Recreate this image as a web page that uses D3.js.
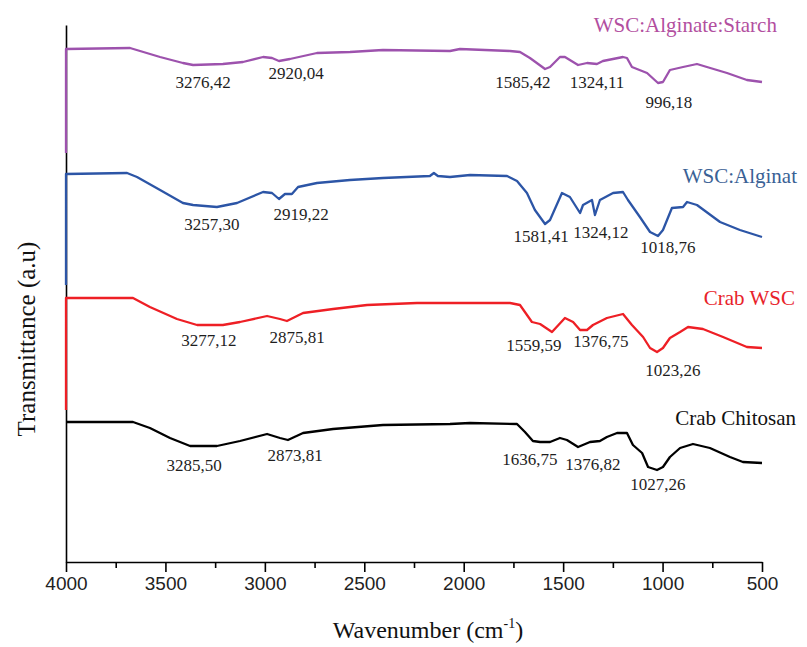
<!DOCTYPE html>
<html><head><meta charset="utf-8">
<script src="https://cdn.jsdelivr.net/npm/d3@7"></script>
<style>body{margin:0;background:#fff}svg{display:block}</style>
</head><body><div id="chart"></div>
<script>
// wavenumber (cm-1), transmittance (a.u.)
const starchW = [4000,4000,3678,3527,3412,3361,3211,3110,3009,2964,2929,2874,2738,2572,2406,2069,2019,1767,1717,1667,1591,1566,1516,1491,1425,1380,1330,1300,1199,1179,1154,1078,1023,998,963,897,827,777,676,576,500];
const starchT = [409,513,514,505,499,497,498,500,505,504,501,503,509,510,512,511,513,511,510,504,493,495,505,505,497,499,498,501,505,504,495,489,479,480,492,495,498,495,489,482,480];

const alginatW = [4000,4000,3693,3643,3527,3412,3361,3241,3140,3009,2964,2929,2899,2864,2833,2738,2572,2406,2170,2150,2130,2069,1968,1782,1732,1682,1642,1591,1566,1506,1466,1415,1400,1355,1340,1315,1249,1199,1174,1114,1063,1023,998,953,897,877,827,711,611,500];
const alginatT = [277,388,389,385,372,359,357,355,359,370,369,363,368,368,375,379,382,384,386,389,386,385,387,386,381,369,352,338,342,369,365,349,357,362,347,362,369,370,362,345,330,326,332,354,355,360,357,340,332,325];

const wscW = [4000,4000,3663,3578,3442,3341,3211,3125,2989,2924,2889,2808,2657,2486,2235,2069,1767,1717,1657,1616,1556,1491,1450,1415,1380,1350,1280,1199,1154,1098,1063,1028,998,963,912,872,797,696,576,500];
const wscT = [152,264,264,255,243,237,237,240,246,243,241,249,253,257,259,259,259,257,240,238,230,244,240,232,232,237,244,248,237,225,214,210,214,224,230,235,233,225,215,214];

const chitW = [4000,3663,3578,3477,3376,3241,3125,2989,2924,2884,2808,2657,2406,2069,1968,1732,1692,1652,1616,1566,1516,1481,1425,1365,1315,1280,1229,1179,1149,1103,1073,1028,998,963,912,847,762,661,596,500];
const chitT = [140,140,134,124,116,116,121,128,124,122,129,133,137,138,139,138,130,121,120,120,124,122,115,120,121,125,129,129,117,109,95,92,95,105,114,118,114,105,100,99];

const seriesNames = ["WSC:Alginate:Starch","WSC:Alginat","Crab WSC","Crab Chitosan"];
const nameW = [425,324,334,329];
const nameT = [530,379,257,137];

const starchPeaks = ["3276,42","2920,04","1585,42","1324,11","996,18"];
const starchPeakW = [3311,2843,1702,1330,968];
const starchPeakT = [474,483,474,474,454];
const alginatPeaks = ["3257,30","2919,22","1581,41","1324,12","1018,76"];
const alginatPeakW = [3266,2818,1611,1310,973];
const alginatPeakT = [332,342,320,324,309];
const wscPeaks = ["3277,12","2875,81","1559,59","1376,75","1023,26"];
const wscPeakW = [3281,2838,1647,1310,948];
const wscPeakT = [216,219,211,215,186];
const chitPeaks = ["3285,50","2873,81","1636,75","1376,82","1027,26"];
const chitPeakW = [3356,2848,1667,1350,1023];
const chitPeakT = [91,101,97,92,72];

const xTicks = [4000,3500,3000,2500,2000,1500,1000,500];
const xMinorTicks = [3750,3250,2750,2250,1750,1250,750];

const lineColors = ["#9d52ad","#2c55a6","#ee1f25","#000000"];
const nameColors = ["#b24f9f","#3a6195","#e8232a","#111111"];

const W = 807, H = 647;
const margin = {left:66, right:45, top:25, bottom:85};
const x = d3.scaleLinear().domain([4000,500]).range([margin.left, W - margin.right]);
const y = d3.scaleLinear().domain([0,537]).range([H - margin.bottom, margin.top]);

const svg = d3.select("#chart").append("svg").attr("width",W).attr("height",H);

// axes
const xAxis = svg.append("g").attr("transform",`translate(0,${y(0)})`)
  .call(d3.axisBottom(x).tickValues(xTicks).tickFormat(d3.format("d")).tickSize(10).tickSizeOuter(0).tickPadding(5));
xAxis.select(".domain").attr("stroke","#000").attr("stroke-width",1.6);
xAxis.selectAll(".tick line").attr("stroke","#000").attr("stroke-width",1.6);
xAxis.selectAll("text").attr("font-family","Liberation Sans, Arial, sans-serif").attr("font-size",19).attr("fill","#222");
const xMinor = svg.append("g").attr("transform",`translate(0,${y(0)})`)
  .call(d3.axisBottom(x).tickValues(xMinorTicks).tickFormat("").tickSize(6).tickSizeOuter(0));
xMinor.select(".domain").remove();
xMinor.selectAll(".tick line").attr("stroke","#000").attr("stroke-width",1.6);

const yAxis = svg.append("g").attr("transform",`translate(${x(4000)},0)`)
  .call(d3.axisLeft(y).tickValues([]).tickSizeOuter(0));
yAxis.select(".domain").attr("stroke","#000").attr("stroke-width",1.6);

// series
const series = [
  {w:starchW, t:starchT, pk:starchPeaks, pw:starchPeakW, pt:starchPeakT},
  {w:alginatW, t:alginatT, pk:alginatPeaks, pw:alginatPeakW, pt:alginatPeakT},
  {w:wscW, t:wscT, pk:wscPeaks, pw:wscPeakW, pt:wscPeakT},
  {w:chitW, t:chitT, pk:chitPeaks, pw:chitPeakW, pt:chitPeakT}
];
const line = d3.line().x(d=>x(d[0])).y(d=>y(d[1]));
series.forEach((s,i)=>{
  const pts = s.w.map((w,j)=>[w,s.t[j]]);
  svg.append("path").datum(pts).attr("d",line).attr("fill","none")
    .attr("stroke",lineColors[i]).attr("stroke-width",2.3).attr("stroke-linejoin","round");
  s.pk.forEach((lab,j)=>{
    svg.append("text").attr("x",x(s.pw[j])).attr("y",y(s.pt[j]))
      .attr("text-anchor","middle").attr("font-family","Liberation Serif, Times New Roman, serif")
      .attr("font-size",17).attr("fill","#1e1e1e").text(lab);
  });
  svg.append("text").attr("x",x(nameW[i])).attr("y",y(nameT[i]))
    .attr("text-anchor","end").attr("font-family","Liberation Serif, Times New Roman, serif")
    .attr("font-size",21).attr("fill",nameColors[i]).text(seriesNames[i]);
});

// axis titles
const xt = svg.append("text").attr("x",428).attr("y",638).attr("text-anchor","middle")
  .attr("font-family","Liberation Serif, Times New Roman, serif").attr("font-size",24).attr("fill","#111");
xt.append("tspan").text("Wavenumber (cm");
xt.append("tspan").attr("font-size",14).attr("dy",-10).text("-1");
xt.append("tspan").attr("dy",10).text(")");

svg.append("text").attr("transform","translate(35,339) rotate(-90)").attr("text-anchor","middle")
  .attr("font-family","Liberation Serif, Times New Roman, serif").attr("font-size",25).attr("fill","#111")
  .text("Transmittance (a.u)");
</script>
</body></html>
